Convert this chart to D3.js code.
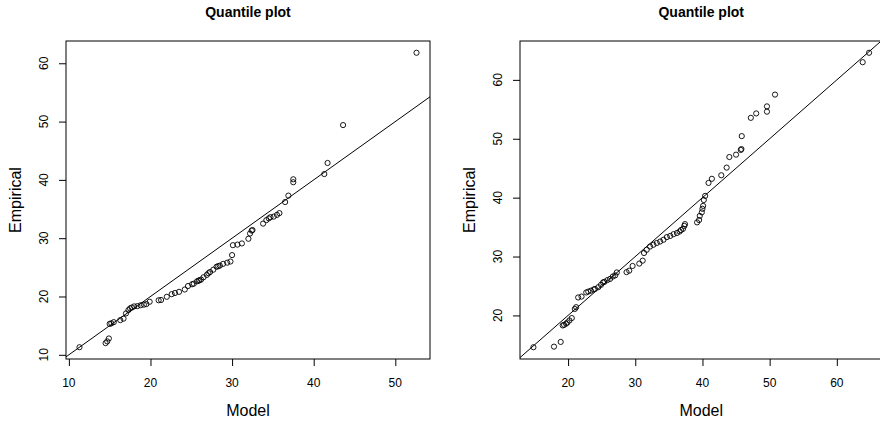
<!DOCTYPE html>
<html>
<head>
<meta charset="utf-8">
<script src="https://cdn.jsdelivr.net/npm/d3@7/dist/d3.min.js"></script>
<style>
  html, body { margin: 0; padding: 0; background: #fff; }
  svg { display: block; font-family: "Liberation Sans", Arial, Helvetica, sans-serif; }
</style>
</head>
<body>
<svg id="chart" width="880" height="422"></svg>
<script>
// Sorted model quantiles vs. sorted empirical values, first fit
const leftModel = [
  11.3, 14.5, 14.7, 14.9, 15.0, 15.2, 15.5, 16.3, 16.7, 17.0, 17.3, 17.5, 17.7, 18.0,
  18.4, 18.8, 19.2, 19.5, 19.9, 21.0, 21.3, 22.0, 22.6, 23.0, 23.5, 24.2, 24.6, 25.1,
  25.3, 25.7, 25.9, 26.0, 26.2, 26.5, 26.9, 27.1, 27.3, 27.7, 28.1, 28.3, 28.5, 28.9,
  29.4, 29.8, 30.0, 30.1, 30.65, 31.2, 32.0, 32.2, 32.4, 32.5, 33.8, 34.2, 34.5, 34.7,
  35.1, 35.5, 35.8, 36.5, 36.9, 37.5, 37.5, 41.3, 41.7, 43.6, 52.6
];
const leftEmpirical = [
  11.3, 12.0, 12.3, 12.8, 15.3, 15.4, 15.6, 15.95, 16.2, 17.1, 17.67, 17.96, 18.1, 18.3,
  18.35, 18.5, 18.6, 18.7, 19.1, 19.35, 19.4, 19.95, 20.4, 20.6, 20.8, 21.2, 21.8, 22.1,
  22.2, 22.6, 22.7, 22.8, 22.9, 23.3, 23.7, 24.0, 24.2, 24.6, 25.1, 25.2, 25.3, 25.6,
  25.8, 26.0, 27.1, 28.8, 28.9, 29.1, 29.9, 30.8, 31.3, 31.4, 32.5, 33.1, 33.4, 33.6,
  33.7, 34.0, 34.3, 36.2, 37.3, 39.6, 40.1, 41.0, 42.9, 49.4, 61.8
];

// Sorted model quantiles vs. sorted empirical values, second fit
const rightModel = [
  14.84, 17.9, 18.9, 19.2, 19.4, 19.7, 19.9, 20.2, 20.55, 21.0, 21.2, 21.5, 22.0, 22.7,
  23.0, 23.4, 23.8, 24.0, 24.5, 24.9, 25.2, 25.4, 25.85, 26.25, 26.65, 27.0, 27.25, 28.7,
  29.1, 29.6, 30.6, 31.1, 31.3, 31.7, 32.2, 32.7, 33.2, 33.7, 34.2, 34.7, 35.2, 35.7,
  36.2, 36.6, 36.8, 37.1, 37.3, 37.4, 39.2, 39.5, 39.6, 39.9, 40.0, 40.1, 40.2, 40.4,
  40.9, 41.4, 42.8, 43.6, 44.0, 45.0, 45.7, 45.8, 45.85, 47.2, 48.0, 49.6, 49.6, 50.8,
  63.85, 64.8
];
const rightEmpirical = [
  14.6, 14.7, 15.5, 18.3, 18.4, 18.6, 18.8, 19.15, 19.55, 21.1, 21.4, 23.05, 23.2, 23.9,
  24.05, 24.2, 24.4, 24.5, 24.8, 25.2, 25.6, 25.7, 26.0, 26.2, 26.6, 26.8, 27.3, 27.35,
  27.6, 28.4, 28.8, 29.3, 30.6, 31.15, 31.7, 32.0, 32.3, 32.55, 32.85, 33.3, 33.5, 33.8,
  34.0, 34.25, 34.5, 34.7, 35.2, 35.5, 35.8, 36.2, 36.9, 37.5, 38.1, 38.6, 39.6, 40.3,
  42.5, 43.2, 43.8, 45.1, 46.9, 47.3, 48.1, 48.25, 50.45, 53.55, 54.3, 54.6, 55.5, 57.5,
  63.0, 64.6
];

const leftXTicks = [10, 20, 30, 40, 50];
const leftYTicks = [10, 20, 30, 40, 50, 60];
const rightXTicks = [20, 30, 40, 50, 60];
const rightYTicks = [20, 30, 40, 50, 60];

const titleText = "Quantile plot";
const xLabel = "Model";
const yLabel = "Empirical";

const svg = d3.select("#chart");

// R-style axis limits: data range widened by 4% on each side
function paddedExtent(values) {
  const [lo, hi] = d3.extent(values);
  const pad = (hi - lo) * 0.04;
  return [lo - pad, hi + pad];
}

function drawPanel(id, box, xs, ys, xTicks, yTicks) {
  const x = d3.scaleLinear().domain(paddedExtent(xs)).range([box.left, box.right]);
  const y = d3.scaleLinear().domain(paddedExtent(ys)).range([box.bottom, box.top]);
  const g = svg.append("g");

  g.append("clipPath").attr("id", "clip-" + id)
    .append("rect")
    .attr("x", box.left).attr("y", box.top)
    .attr("width", box.right - box.left).attr("height", box.bottom - box.top);

  // Reference line y = x
  const lo = Math.min(x.domain()[0], y.domain()[0]);
  const hi = Math.max(x.domain()[1], y.domain()[1]);
  g.append("line")
    .attr("clip-path", "url(#clip-" + id + ")")
    .attr("x1", x(lo)).attr("y1", y(lo))
    .attr("x2", x(hi)).attr("y2", y(hi))
    .attr("stroke", "#000").attr("stroke-width", 1);

  // Points
  g.append("g").selectAll("circle")
    .data(d3.zip(xs, ys))
    .join("circle")
    .attr("cx", d => x(d[0]))
    .attr("cy", d => y(d[1]))
    .attr("r", 2.6)
    .attr("fill", "none")
    .attr("stroke", "#000")
    .attr("stroke-width", 0.9);

  // Frame
  g.append("rect")
    .attr("x", box.left).attr("y", box.top)
    .attr("width", box.right - box.left).attr("height", box.bottom - box.top)
    .attr("fill", "none").attr("stroke", "#000").attr("stroke-width", 1);

  // Axes (tick marks from d3, labels placed R-style)
  const xAxis = g.append("g")
    .attr("transform", `translate(0,${box.bottom})`)
    .call(d3.axisBottom(x).tickValues(xTicks).tickSize(7).tickFormat(""));
  xAxis.select(".domain").remove();
  xAxis.selectAll(".tick line").attr("stroke", "#000");

  g.append("g").selectAll("text")
    .data(xTicks)
    .join("text")
    .attr("x", d => x(d))
    .attr("y", box.bottom + 28)
    .attr("text-anchor", "middle")
    .attr("font-size", 12)
    .text(d3.format("d"));

  const yAxis = g.append("g")
    .attr("transform", `translate(${box.left},0)`)
    .call(d3.axisLeft(y).tickValues(yTicks).tickSize(7).tickFormat(""));
  yAxis.select(".domain").remove();
  yAxis.selectAll(".tick line").attr("stroke", "#000");

  g.append("g").selectAll("text")
    .data(yTicks)
    .join("text")
    .attr("transform", d => `translate(${box.left - 18},${y(d)}) rotate(-90)`)
    .attr("text-anchor", "middle")
    .attr("font-size", 12)
    .text(d3.format("d"));

  // Title and axis titles
  g.append("text")
    .attr("x", (box.left + box.right) / 2).attr("y", 17)
    .attr("text-anchor", "middle")
    .attr("font-size", 14).attr("font-weight", "bold")
    .text(titleText);

  g.append("text")
    .attr("x", (box.left + box.right) / 2).attr("y", 416)
    .attr("text-anchor", "middle")
    .attr("font-size", 16)
    .text(xLabel);

  const ym = (box.top + box.bottom) / 2;
  g.append("text")
    .attr("transform", `translate(${box.left - 45},${ym}) rotate(-90)`)
    .attr("text-anchor", "middle")
    .attr("font-size", 16)
    .text(yLabel);
}

drawPanel("a", { left: 66, right: 430, top: 41, bottom: 359 },
  leftModel, leftEmpirical, leftXTicks, leftYTicks);
drawPanel("b", { left: 520, right: 882.5, top: 41, bottom: 359 },
  rightModel, rightEmpirical, rightXTicks, rightYTicks);
</script>
</body>
</html>
